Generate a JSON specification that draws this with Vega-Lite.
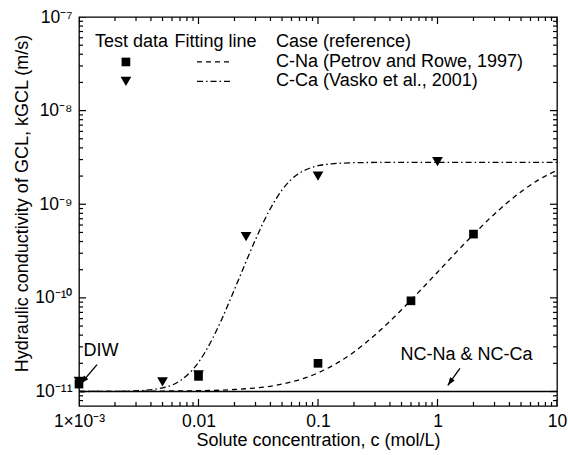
{
  "$schema": "https://vega.github.io/schema/vega-lite/v6.json",
  "width": 478,
  "height": 389,
  "autosize": "none",
  "padding": {"left": 79, "top": 17, "right": 11, "bottom": 49},
  "background": "white",
  "config": {
    "font": "Liberation Sans",
    "view": {"stroke": "black", "strokeWidth": 1.3},
    "text": {"font": "Liberation Sans", "fontSize": 18, "color": "black"}
  },
  "datasets": {
    "refline": [
      {"c": 0.001, "k": 1e-11},
      {"c": 10, "k": 1e-11}
    ],
    "curves": [
      {"series": "C-Na", "c": 0.001, "k": 1.0e-11},
      {"series": "C-Na", "c": 0.01, "k": 1.02e-11},
      {"series": "C-Na", "c": 0.02, "k": 1.05e-11},
      {"series": "C-Na", "c": 0.05, "k": 1.20e-11},
      {"series": "C-Na", "c": 0.1, "k": 1.58e-11},
      {"series": "C-Na", "c": 0.2, "k": 2.64e-11},
      {"series": "C-Na", "c": 0.3, "k": 4.02e-11},
      {"series": "C-Na", "c": 0.5, "k": 7.46e-11},
      {"series": "C-Na", "c": 0.6, "k": 9.46e-11},
      {"series": "C-Na", "c": 0.8, "k": 1.39e-10},
      {"series": "C-Na", "c": 1, "k": 1.88e-10},
      {"series": "C-Na", "c": 1.5, "k": 3.26e-10},
      {"series": "C-Na", "c": 2, "k": 4.76e-10},
      {"series": "C-Na", "c": 3, "k": 7.87e-10},
      {"series": "C-Na", "c": 5, "k": 1.36e-9},
      {"series": "C-Na", "c": 7, "k": 1.82e-9},
      {"series": "C-Na", "c": 10, "k": 2.30e-9},
      {"series": "C-Ca", "c": 0.001, "k": 1.0e-11},
      {"series": "C-Ca", "c": 0.002, "k": 1.004e-11},
      {"series": "C-Ca", "c": 0.003, "k": 1.016e-11},
      {"series": "C-Ca", "c": 0.005, "k": 1.094e-11},
      {"series": "C-Ca", "c": 0.007, "k": 1.30e-11},
      {"series": "C-Ca", "c": 0.01, "k": 2.05e-11},
      {"series": "C-Ca", "c": 0.013, "k": 3.6e-11},
      {"series": "C-Ca", "c": 0.016, "k": 6.3e-11},
      {"series": "C-Ca", "c": 0.02, "k": 1.23e-10},
      {"series": "C-Ca", "c": 0.025, "k": 2.44e-10},
      {"series": "C-Ca", "c": 0.03, "k": 4.2e-10},
      {"series": "C-Ca", "c": 0.035, "k": 6.46e-10},
      {"series": "C-Ca", "c": 0.04, "k": 9.0e-10},
      {"series": "C-Ca", "c": 0.05, "k": 1.42e-9},
      {"series": "C-Ca", "c": 0.06, "k": 1.85e-9},
      {"series": "C-Ca", "c": 0.07, "k": 2.15e-9},
      {"series": "C-Ca", "c": 0.08, "k": 2.35e-9},
      {"series": "C-Ca", "c": 0.1, "k": 2.58e-9},
      {"series": "C-Ca", "c": 0.13, "k": 2.70e-9},
      {"series": "C-Ca", "c": 0.16, "k": 2.75e-9},
      {"series": "C-Ca", "c": 0.2, "k": 2.78e-9},
      {"series": "C-Ca", "c": 0.3, "k": 2.795e-9},
      {"series": "C-Ca", "c": 0.5, "k": 2.8e-9},
      {"series": "C-Ca", "c": 1, "k": 2.8e-9},
      {"series": "C-Ca", "c": 10, "k": 2.8e-9}
    ],
    "points": [
      {"series": "C-Na", "c": 0.001, "k": 1.2e-11},
      {"series": "C-Na", "c": 0.01, "k": 1.45e-11},
      {"series": "C-Na", "c": 0.1, "k": 2.0e-11},
      {"series": "C-Na", "c": 0.6, "k": 9.3e-11},
      {"series": "C-Na", "c": 2, "k": 4.8e-10},
      {"series": "C-Ca", "c": 0.001, "k": 1.28e-11},
      {"series": "C-Ca", "c": 0.005, "k": 1.27e-11},
      {"series": "C-Ca", "c": 0.01, "k": 1.5e-11},
      {"series": "C-Ca", "c": 0.025, "k": 4.5e-10},
      {"series": "C-Ca", "c": 0.1, "k": 2.0e-9},
      {"series": "C-Ca", "c": 1, "k": 2.85e-9},
      {"series": "C-Na", "c": 0.00247, "k": 3.31e-8},
      {"series": "C-Ca", "c": 0.00247, "k": 2.05e-8}
    ],
    "legendlines": [
      {"series": "C-Na", "c": 0.00972, "k": 3.31e-8},
      {"series": "C-Na", "c": 0.01945, "k": 3.31e-8},
      {"series": "C-Ca", "c": 0.00972, "k": 2.05e-8},
      {"series": "C-Ca", "c": 0.01945, "k": 2.05e-8}
    ],
    "arrows": [
      {"name": "DIW", "c": 0.001415, "k": 1.94e-11, "c2": 0.001039, "k2": 1.218e-11},
      {"name": "NC", "c": 1.54, "k": 1.77e-11, "c2": 1.22, "k2": 1.16e-11}
    ],
    "texts": [
      {"group": "center", "text": "Test data", "c": 0.00275, "k": 5.41e-8},
      {"group": "center", "text": "Fitting line", "c": 0.01388, "k": 5.41e-8},
      {"group": "left", "text": "Case (reference)", "c": 0.0445, "k": 5.41e-8},
      {"group": "left", "text": "C-Na (Petrov and Rowe, 1997)", "c": 0.0445, "k": 3.31e-8},
      {"group": "left", "text": "C-Ca (Vasko et al., 2001)", "c": 0.0445, "k": 2.05e-8},
      {"group": "center", "text": "DIW", "c": 0.001527, "k": 2.71e-11},
      {"group": "center", "text": "NC-Na & NC-Ca", "c": 1.748, "k": 2.45e-11}
    ],
    "xticks": [
      {"c": 0.001, "kind": "major"}, {"c": 0.01, "kind": "major"}, {"c": 0.1, "kind": "major"}, {"c": 1, "kind": "major"}, {"c": 10, "kind": "major"},
      {"c": 0.002, "kind": "minor"}, {"c": 0.003, "kind": "minor"}, {"c": 0.004, "kind": "minor"}, {"c": 0.005, "kind": "minor"}, {"c": 0.006, "kind": "minor"}, {"c": 0.007, "kind": "minor"}, {"c": 0.008, "kind": "minor"}, {"c": 0.009, "kind": "minor"},
      {"c": 0.02, "kind": "minor"}, {"c": 0.03, "kind": "minor"}, {"c": 0.04, "kind": "minor"}, {"c": 0.05, "kind": "minor"}, {"c": 0.06, "kind": "minor"}, {"c": 0.07, "kind": "minor"}, {"c": 0.08, "kind": "minor"}, {"c": 0.09, "kind": "minor"},
      {"c": 0.2, "kind": "minor"}, {"c": 0.3, "kind": "minor"}, {"c": 0.4, "kind": "minor"}, {"c": 0.5, "kind": "minor"}, {"c": 0.6, "kind": "minor"}, {"c": 0.7, "kind": "minor"}, {"c": 0.8, "kind": "minor"}, {"c": 0.9, "kind": "minor"},
      {"c": 2, "kind": "minor"}, {"c": 3, "kind": "minor"}, {"c": 4, "kind": "minor"}, {"c": 5, "kind": "minor"}, {"c": 6, "kind": "minor"}, {"c": 7, "kind": "minor"}, {"c": 8, "kind": "minor"}, {"c": 9, "kind": "minor"}
    ],
    "yticks": [
      {"k": 1e-11, "kind": "major"}, {"k": 1e-10, "kind": "major"}, {"k": 1e-9, "kind": "major"}, {"k": 1e-8, "kind": "major"}, {"k": 1e-7, "kind": "major"},
      {"k": 8e-12, "kind": "minor"}, {"k": 9e-12, "kind": "minor"},
      {"k": 2e-11, "kind": "minor"}, {"k": 3e-11, "kind": "minor"}, {"k": 4e-11, "kind": "minor"}, {"k": 5e-11, "kind": "minor"}, {"k": 6e-11, "kind": "minor"}, {"k": 7e-11, "kind": "minor"}, {"k": 8e-11, "kind": "minor"}, {"k": 9e-11, "kind": "minor"},
      {"k": 2e-10, "kind": "minor"}, {"k": 3e-10, "kind": "minor"}, {"k": 4e-10, "kind": "minor"}, {"k": 5e-10, "kind": "minor"}, {"k": 6e-10, "kind": "minor"}, {"k": 7e-10, "kind": "minor"}, {"k": 8e-10, "kind": "minor"}, {"k": 9e-10, "kind": "minor"},
      {"k": 2e-9, "kind": "minor"}, {"k": 3e-9, "kind": "minor"}, {"k": 4e-9, "kind": "minor"}, {"k": 5e-9, "kind": "minor"}, {"k": 6e-9, "kind": "minor"}, {"k": 7e-9, "kind": "minor"}, {"k": 8e-9, "kind": "minor"}, {"k": 9e-9, "kind": "minor"},
      {"k": 2e-8, "kind": "minor"}, {"k": 3e-8, "kind": "minor"}, {"k": 4e-8, "kind": "minor"}, {"k": 5e-8, "kind": "minor"}, {"k": 6e-8, "kind": "minor"}, {"k": 7e-8, "kind": "minor"}, {"k": 8e-8, "kind": "minor"}, {"k": 9e-8, "kind": "minor"}
    ]
  },
  "resolve": {"axis": {"x": "independent", "y": "independent"}},
  "layer": [
    {
      "data": {"name": "refline"},
      "mark": {"type": "line", "color": "black", "strokeWidth": 1.4},
      "encoding": {
        "x": {"field": "c", "type": "quantitative", "scale": {"type": "log", "domain": [0.001, 10], "nice": false},
          "axis": {"orient": "bottom", "values": [0.001, 0.01, 0.1, 1, 10], "grid": false, "domain": false, "tickSize": 0, "tickOpacity": 0, "labelPadding": 6, "labelFlush": false, "labelOverlap": false, "labelBound": false, "labelColor": "black", "labelFont": "Liberation Sans", "labelFontSize": 17.5,
            "labelExpr": "round(log(datum.value)/LN10) == -3 ? '1×10⁻³' : round(log(datum.value)/LN10) == -2 ? '0.01' : round(log(datum.value)/LN10) == -1 ? '0.1' : round(log(datum.value)/LN10) == 0 ? '1' : '10'",
            "title": "Solute concentration, c (mol/L)", "titleColor": "black", "titleFont": "Liberation Sans", "titleFontSize": 18, "titleFontWeight": "normal", "titleY": 34, "titleBaseline": "middle"}},
        "y": {"field": "k", "type": "quantitative", "scale": {"type": "log", "domain": [7e-12, 1e-7], "nice": false},
          "axis": {"orient": "left", "values": [1e-11, 1e-10, 1e-9, 1e-8, 1e-7], "grid": false, "domain": false, "tickSize": 0, "tickOpacity": 0, "labelPadding": 7, "labelFlush": false, "labelOverlap": false, "labelBound": false, "labelColor": "black", "labelFont": "Liberation Sans", "labelFontSize": 17.5,
            "labelExpr": "round(log(datum.value)/LN10) == -7 ? '10⁻⁷' : round(log(datum.value)/LN10) == -8 ? '10⁻⁸' : round(log(datum.value)/LN10) == -9 ? '10⁻⁹' : round(log(datum.value)/LN10) == -10 ? '10⁻¹⁰' : '10⁻¹¹'",
            "title": "Hydraulic conductivity of GCL, kGCL (m/s)", "titleColor": "black", "titleFont": "Liberation Sans", "titleFontSize": 18, "titleFontWeight": "normal", "titleX": -57, "titleY": 186, "titleAngle": -90, "titleBaseline": "middle", "titleAlign": "center"}}
      }
    },
    {
      "data": {"name": "xticks"},
      "transform": [{"filter": "datum.kind == 'major'"}],
      "mark": {"type": "tick", "orient": "vertical", "clip": true, "color": "black", "thickness": 1.2, "opacity": 1, "size": 14},
      "encoding": {
        "x": {"field": "c", "type": "quantitative", "scale": {"type": "log", "domain": [0.001, 10], "nice": false}, "axis": null},
        "y": {"datum": 7e-12, "type": "quantitative", "scale": {"type": "log", "domain": [7e-12, 1e-7], "nice": false}, "axis": null}
      }
    },
    {
      "data": {"name": "xticks"},
      "transform": [{"filter": "datum.kind == 'minor'"}],
      "mark": {"type": "tick", "orient": "vertical", "clip": true, "color": "black", "thickness": 1.2, "opacity": 1, "size": 8},
      "encoding": {
        "x": {"field": "c", "type": "quantitative", "scale": {"type": "log", "domain": [0.001, 10], "nice": false}, "axis": null},
        "y": {"datum": 7e-12, "type": "quantitative", "scale": {"type": "log", "domain": [7e-12, 1e-7], "nice": false}, "axis": null}
      }
    },
    {
      "data": {"name": "xticks"},
      "transform": [{"filter": "datum.kind == 'major'"}],
      "mark": {"type": "tick", "orient": "vertical", "clip": true, "color": "black", "thickness": 1.2, "opacity": 1, "size": 14},
      "encoding": {
        "x": {"field": "c", "type": "quantitative", "scale": {"type": "log", "domain": [0.001, 10], "nice": false}, "axis": null},
        "y": {"datum": 1e-7, "type": "quantitative", "scale": {"type": "log", "domain": [7e-12, 1e-7], "nice": false}, "axis": null}
      }
    },
    {
      "data": {"name": "xticks"},
      "transform": [{"filter": "datum.kind == 'minor'"}],
      "mark": {"type": "tick", "orient": "vertical", "clip": true, "color": "black", "thickness": 1.2, "opacity": 1, "size": 8},
      "encoding": {
        "x": {"field": "c", "type": "quantitative", "scale": {"type": "log", "domain": [0.001, 10], "nice": false}, "axis": null},
        "y": {"datum": 1e-7, "type": "quantitative", "scale": {"type": "log", "domain": [7e-12, 1e-7], "nice": false}, "axis": null}
      }
    },
    {
      "data": {"name": "yticks"},
      "transform": [{"filter": "datum.kind == 'major'"}],
      "mark": {"type": "tick", "orient": "horizontal", "clip": true, "color": "black", "thickness": 1.2, "opacity": 1, "size": 14},
      "encoding": {
        "y": {"field": "k", "type": "quantitative", "scale": {"type": "log", "domain": [7e-12, 1e-7], "nice": false}, "axis": null},
        "x": {"datum": 0.001, "type": "quantitative", "scale": {"type": "log", "domain": [0.001, 10], "nice": false}, "axis": null}
      }
    },
    {
      "data": {"name": "yticks"},
      "transform": [{"filter": "datum.kind == 'minor'"}],
      "mark": {"type": "tick", "orient": "horizontal", "clip": true, "color": "black", "thickness": 1.2, "opacity": 1, "size": 8},
      "encoding": {
        "y": {"field": "k", "type": "quantitative", "scale": {"type": "log", "domain": [7e-12, 1e-7], "nice": false}, "axis": null},
        "x": {"datum": 0.001, "type": "quantitative", "scale": {"type": "log", "domain": [0.001, 10], "nice": false}, "axis": null}
      }
    },
    {
      "data": {"name": "yticks"},
      "transform": [{"filter": "datum.kind == 'major'"}],
      "mark": {"type": "tick", "orient": "horizontal", "clip": true, "color": "black", "thickness": 1.2, "opacity": 1, "size": 14},
      "encoding": {
        "y": {"field": "k", "type": "quantitative", "scale": {"type": "log", "domain": [7e-12, 1e-7], "nice": false}, "axis": null},
        "x": {"datum": 10, "type": "quantitative", "scale": {"type": "log", "domain": [0.001, 10], "nice": false}, "axis": null}
      }
    },
    {
      "data": {"name": "yticks"},
      "transform": [{"filter": "datum.kind == 'minor'"}],
      "mark": {"type": "tick", "orient": "horizontal", "clip": true, "color": "black", "thickness": 1.2, "opacity": 1, "size": 8},
      "encoding": {
        "y": {"field": "k", "type": "quantitative", "scale": {"type": "log", "domain": [7e-12, 1e-7], "nice": false}, "axis": null},
        "x": {"datum": 10, "type": "quantitative", "scale": {"type": "log", "domain": [0.001, 10], "nice": false}, "axis": null}
      }
    },
    {
      "data": {"name": "curves"},
      "transform": [{"filter": "datum.series == 'C-Na'"}],
      "mark": {"type": "line", "color": "black", "strokeWidth": 1.3, "strokeDash": [5, 4], "interpolate": "monotone"},
      "encoding": {
        "x": {"field": "c", "type": "quantitative", "scale": {"type": "log", "domain": [0.001, 10], "nice": false}, "axis": null},
        "y": {"field": "k", "type": "quantitative", "scale": {"type": "log", "domain": [7e-12, 1e-7], "nice": false}, "axis": null}
      }
    },
    {
      "data": {"name": "curves"},
      "transform": [{"filter": "datum.series == 'C-Ca'"}],
      "mark": {"type": "line", "color": "black", "strokeWidth": 1.3, "strokeDash": [6, 3, 1.5, 3], "interpolate": "monotone"},
      "encoding": {
        "x": {"field": "c", "type": "quantitative", "scale": {"type": "log", "domain": [0.001, 10], "nice": false}, "axis": null},
        "y": {"field": "k", "type": "quantitative", "scale": {"type": "log", "domain": [7e-12, 1e-7], "nice": false}, "axis": null}
      }
    },
    {
      "data": {"name": "points"},
      "transform": [{"filter": "datum.series == 'C-Na'"}],
      "mark": {"type": "point", "shape": "square", "filled": true, "opacity": 1, "color": "black", "size": 75},
      "encoding": {
        "x": {"field": "c", "type": "quantitative", "scale": {"type": "log", "domain": [0.001, 10], "nice": false}, "axis": null},
        "y": {"field": "k", "type": "quantitative", "scale": {"type": "log", "domain": [7e-12, 1e-7], "nice": false}, "axis": null}
      }
    },
    {
      "data": {"name": "points"},
      "transform": [{"filter": "datum.series == 'C-Ca'"}],
      "mark": {"type": "point", "shape": "triangle-down", "filled": true, "opacity": 1, "color": "black", "size": 115},
      "encoding": {
        "x": {"field": "c", "type": "quantitative", "scale": {"type": "log", "domain": [0.001, 10], "nice": false}, "axis": null},
        "y": {"field": "k", "type": "quantitative", "scale": {"type": "log", "domain": [7e-12, 1e-7], "nice": false}, "axis": null}
      }
    },
    {
      "data": {"name": "legendlines"},
      "transform": [{"filter": "datum.series == 'C-Na'"}],
      "mark": {"type": "line", "color": "black", "strokeWidth": 1.3, "strokeDash": [5, 4]},
      "encoding": {
        "x": {"field": "c", "type": "quantitative", "scale": {"type": "log", "domain": [0.001, 10], "nice": false}, "axis": null},
        "y": {"field": "k", "type": "quantitative", "scale": {"type": "log", "domain": [7e-12, 1e-7], "nice": false}, "axis": null}
      }
    },
    {
      "data": {"name": "legendlines"},
      "transform": [{"filter": "datum.series == 'C-Ca'"}],
      "mark": {"type": "line", "color": "black", "strokeWidth": 1.3, "strokeDash": [6, 3, 1.5, 3]},
      "encoding": {
        "x": {"field": "c", "type": "quantitative", "scale": {"type": "log", "domain": [0.001, 10], "nice": false}, "axis": null},
        "y": {"field": "k", "type": "quantitative", "scale": {"type": "log", "domain": [7e-12, 1e-7], "nice": false}, "axis": null}
      }
    },
    {
      "data": {"name": "arrows"},
      "mark": {"type": "rule", "color": "black", "strokeWidth": 1.3},
      "encoding": {
        "x": {"field": "c", "type": "quantitative", "scale": {"type": "log", "domain": [0.001, 10], "nice": false}, "axis": null},
        "y": {"field": "k", "type": "quantitative", "scale": {"type": "log", "domain": [7e-12, 1e-7], "nice": false}, "axis": null},
        "x2": {"field": "c2"},
        "y2": {"field": "k2"}
      }
    },
    {
      "data": {"name": "arrows"},
      "transform": [{"filter": "datum.name == 'DIW'"}],
      "mark": {"type": "point", "shape": "M0,0L-0.35,1L0.35,1Z", "filled": true, "opacity": 1, "color": "black", "size": 256, "angle": 220},
      "encoding": {
        "x": {"field": "c2", "type": "quantitative", "scale": {"type": "log", "domain": [0.001, 10], "nice": false}, "axis": null},
        "y": {"field": "k2", "type": "quantitative", "scale": {"type": "log", "domain": [7e-12, 1e-7], "nice": false}, "axis": null}
      }
    },
    {
      "data": {"name": "arrows"},
      "transform": [{"filter": "datum.name == 'NC'"}],
      "mark": {"type": "point", "shape": "M0,0L-0.35,1L0.35,1Z", "filled": true, "opacity": 1, "color": "black", "size": 256, "angle": 215},
      "encoding": {
        "x": {"field": "c2", "type": "quantitative", "scale": {"type": "log", "domain": [0.001, 10], "nice": false}, "axis": null},
        "y": {"field": "k2", "type": "quantitative", "scale": {"type": "log", "domain": [7e-12, 1e-7], "nice": false}, "axis": null}
      }
    },
    {
      "data": {"name": "texts"},
      "transform": [{"filter": "datum.group == 'center'"}],
      "mark": {"type": "text", "align": "center", "baseline": "middle", "fontSize": 18, "color": "black"},
      "encoding": {
        "x": {"field": "c", "type": "quantitative", "scale": {"type": "log", "domain": [0.001, 10], "nice": false}, "axis": null},
        "y": {"field": "k", "type": "quantitative", "scale": {"type": "log", "domain": [7e-12, 1e-7], "nice": false}, "axis": null},
        "text": {"field": "text"}
      }
    },
    {
      "data": {"name": "texts"},
      "transform": [{"filter": "datum.group == 'left'"}],
      "mark": {"type": "text", "align": "left", "baseline": "middle", "fontSize": 18, "color": "black"},
      "encoding": {
        "x": {"field": "c", "type": "quantitative", "scale": {"type": "log", "domain": [0.001, 10], "nice": false}, "axis": null},
        "y": {"field": "k", "type": "quantitative", "scale": {"type": "log", "domain": [7e-12, 1e-7], "nice": false}, "axis": null},
        "text": {"field": "text"}
      }
    }
  ]
}
